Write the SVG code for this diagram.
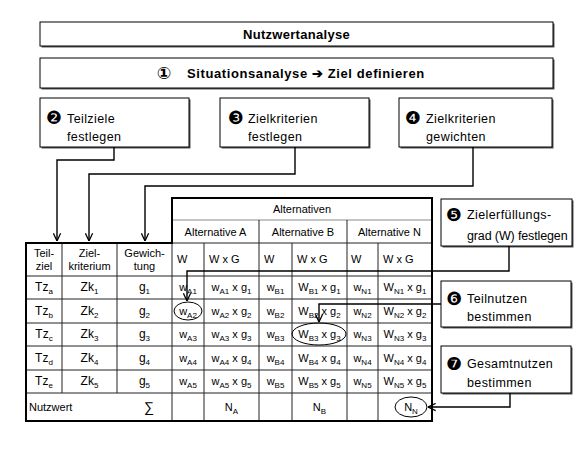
<svg xmlns="http://www.w3.org/2000/svg" width="585" height="449" viewBox="0 0 585 449">
<style>
.box{fill:#fff;stroke:#000;stroke-width:1}
.sh{fill:#555}
.bt{font-family:"Liberation Sans",Arial,sans-serif;font-size:12.5px;letter-spacing:0.4px;fill:#000}
.hb{font-family:"Liberation Sans",Arial,sans-serif;font-size:13px;font-weight:bold;fill:#000}
.num{font-family:"DejaVu Sans","Noto Sans CJK SC",sans-serif;font-size:18px;fill:#000;text-anchor:middle}
.t{font-family:"Liberation Sans",Arial,sans-serif;font-size:11px;fill:#000;text-anchor:middle}
.tl{font-family:"Liberation Sans",Arial,sans-serif;font-size:11px;fill:#000}
.big{font-size:12px}
.sb{font-size:8px}
.grid line{stroke:#222;stroke-width:1}
.conn path{fill:none;stroke:#000;stroke-width:1.4}
.ell{fill:none;stroke:#000;stroke-width:1}
</style>
<defs>
<marker id="arr" viewBox="0 0 10 10" refX="9.5" refY="5" markerWidth="9" markerHeight="9" markerUnits="userSpaceOnUse" orient="auto">
<path d="M1,1 L9.5,5 L1,9" fill="none" stroke="#000" stroke-width="1.4"/>
</marker>
</defs>
<rect width="585" height="449" fill="#fff"/>

<g id="title">
<rect class="sh" x="41.5" y="23.5" width="513" height="24"/>
<rect class="box" x="40" y="22" width="513" height="24"/>
<text class="hb" x="296.5" y="38.5" text-anchor="middle" letter-spacing="0.3">Nutzwertanalyse</text>
</g>

<g id="step1">
<rect class="sh" x="41.5" y="59.5" width="513" height="30"/>
<rect class="box" x="40" y="58" width="513" height="30"/>
<text class="num" x="164" y="79" style="font-size:17px;font-weight:bold">①</text>
<text class="hb" x="187" y="78" letter-spacing="0.6">Situationsanalyse ➔ Ziel definieren</text>
</g>

<g id="step2">
<rect class="sh" x="41.5" y="99.5" width="149" height="49"/>
<rect class="box" x="40" y="98" width="149" height="49"/>
<text class="num" x="54" y="124">❷</text>
<text class="bt" x="67" y="123">Teilziele</text>
<text class="bt" x="67" y="141">festlegen</text>
</g>

<g id="step3">
<rect class="sh" x="221.5" y="99.5" width="149" height="49"/>
<rect class="box" x="220" y="98" width="149" height="49"/>
<text class="num" x="236" y="124">❸</text>
<text class="bt" x="248" y="123">Zielkriterien</text>
<text class="bt" x="248" y="141">festlegen</text>
</g>

<g id="step4">
<rect class="sh" x="400.5" y="99.5" width="153" height="49"/>
<rect class="box" x="399" y="98" width="153" height="49"/>
<text class="num" x="413" y="124">❹</text>
<text class="bt" x="426" y="123">Zielkriterien</text>
<text class="bt" x="426" y="141">gewichten</text>
</g>

<g id="step5">
<rect class="sh" x="442.5" y="200.5" width="131" height="47"/>
<rect class="box" x="441" y="199" width="131" height="47"/>
<text class="num" x="454" y="221">❺</text>
<text class="bt" x="467" y="219">Zielerfüllungs-</text>
<text class="bt" x="467" y="240" textLength="101" lengthAdjust="spacing">grad (W) festlegen</text>
</g>

<g id="step6">
<rect class="sh" x="442.5" y="282.5" width="130" height="46"/>
<rect class="box" x="441" y="281" width="130" height="46"/>
<text class="num" x="454" y="305">❻</text>
<text class="bt" x="467" y="303">Teilnutzen</text>
<text class="bt" x="467" y="321">bestimmen</text>
</g>

<g id="step7">
<rect class="sh" x="442.5" y="347.5" width="130" height="47"/>
<rect class="box" x="441" y="346" width="130" height="47"/>
<text class="num" x="454" y="370">❼</text>
<text class="bt" x="467" y="368">Gesamtnutzen</text>
<text class="bt" x="467" y="387">bestimmen</text>
</g>

<g id="table">
<g class="grid">
<line x1="172" y1="220" x2="432" y2="220" style="stroke:#888"/>
<line x1="172" y1="243" x2="432" y2="243"/>
<line x1="26" y1="276" x2="432" y2="276"/>
<line x1="26" y1="299" x2="432" y2="299"/>
<line x1="26" y1="323" x2="432" y2="323"/>
<line x1="26" y1="346" x2="432" y2="346"/>
<line x1="26" y1="370" x2="432" y2="370"/>
<line x1="26" y1="393" x2="432" y2="393"/>
<line x1="62" y1="243" x2="62" y2="393"/>
<line x1="117" y1="243" x2="117" y2="393"/>
<line x1="172" y1="243" x2="172" y2="421"/>
<line x1="204" y1="243" x2="204" y2="421"/>
<line x1="259" y1="220" x2="259" y2="421"/>
<line x1="292" y1="243" x2="292" y2="421"/>
<line x1="347" y1="220" x2="347" y2="421"/>
<line x1="378" y1="243" x2="378" y2="421"/>
</g>
<path d="M26,243 H172 V198 H432 V421 H26 Z" fill="none" stroke="#000" stroke-width="2"/>

<text class="t" x="302" y="213">Alternativen</text>
<text class="t" x="215.5" y="235.5">Alternative A</text>
<text class="t" x="303" y="235.5">Alternative B</text>
<text class="t" x="389.5" y="235.5">Alternative N</text>

<text class="t" x="44" y="257">Teil-</text>
<text class="t" x="44" y="270">ziel</text>
<text class="t" x="89.5" y="257">Ziel-</text>
<text class="t" x="89.5" y="270">kriterium</text>
<text class="t" x="144.5" y="257">Gewich-</text>
<text class="t" x="144.5" y="270">tung</text>
<text class="tl" x="177" y="263">W</text>
<text class="tl" x="209" y="263">W x G</text>
<text class="tl" x="264" y="263">W</text>
<text class="tl" x="297" y="263">W x G</text>
<text class="tl" x="351" y="263">W</text>
<text class="tl" x="383" y="263">W x G</text>

<!-- row a -->
<text class="t big" x="44" y="291">Tz<tspan class="sb" dy="3">a</tspan></text>
<text class="t big" x="89.5" y="291">Zk<tspan class="sb" dy="3">1</tspan></text>
<text class="t big" x="144.5" y="291">g<tspan class="sb" dy="3">1</tspan></text>
<text class="t" x="188" y="291">w<tspan class="sb" dy="3">A1</tspan></text>
<text class="t" x="231.5" y="291">w<tspan class="sb" dy="3">A1</tspan><tspan dy="-3"> x g</tspan><tspan class="sb" dy="3">1</tspan></text>
<text class="t" x="275.5" y="291">w<tspan class="sb" dy="3">B1</tspan></text>
<text class="t" x="319.5" y="291">W<tspan class="sb" dy="3">B1</tspan><tspan dy="-3"> x g</tspan><tspan class="sb" dy="3">1</tspan></text>
<text class="t" x="362.5" y="291">w<tspan class="sb" dy="3">N1</tspan></text>
<text class="t" x="405" y="291">W<tspan class="sb" dy="3">N1</tspan><tspan dy="-3"> x g</tspan><tspan class="sb" dy="3">1</tspan></text>

<!-- row b -->
<text class="t big" x="44" y="315">Tz<tspan class="sb" dy="3">b</tspan></text>
<text class="t big" x="89.5" y="315">Zk<tspan class="sb" dy="3">2</tspan></text>
<text class="t big" x="144.5" y="315">g<tspan class="sb" dy="3">2</tspan></text>
<text class="t" x="188" y="315">w<tspan class="sb" dy="3">A2</tspan></text>
<text class="t" x="231.5" y="315">w<tspan class="sb" dy="3">A2</tspan><tspan dy="-3"> x g</tspan><tspan class="sb" dy="3">2</tspan></text>
<text class="t" x="275.5" y="315">w<tspan class="sb" dy="3">B2</tspan></text>
<text class="t" x="319.5" y="315">W<tspan class="sb" dy="3">B2</tspan><tspan dy="-3"> x g</tspan><tspan class="sb" dy="3">2</tspan></text>
<text class="t" x="362.5" y="315">w<tspan class="sb" dy="3">N2</tspan></text>
<text class="t" x="405" y="315">W<tspan class="sb" dy="3">N2</tspan><tspan dy="-3"> x g</tspan><tspan class="sb" dy="3">2</tspan></text>

<!-- row c -->
<text class="t big" x="44" y="338">Tz<tspan class="sb" dy="3">c</tspan></text>
<text class="t big" x="89.5" y="338">Zk<tspan class="sb" dy="3">3</tspan></text>
<text class="t big" x="144.5" y="338">g<tspan class="sb" dy="3">3</tspan></text>
<text class="t" x="188" y="338">w<tspan class="sb" dy="3">A3</tspan></text>
<text class="t" x="231.5" y="338">w<tspan class="sb" dy="3">A3</tspan><tspan dy="-3"> x g</tspan><tspan class="sb" dy="3">3</tspan></text>
<text class="t" x="275.5" y="338">w<tspan class="sb" dy="3">B3</tspan></text>
<text class="t" x="319.5" y="338">W<tspan class="sb" dy="3">B3</tspan><tspan dy="-3"> x g</tspan><tspan class="sb" dy="3">3</tspan></text>
<text class="t" x="362.5" y="338">w<tspan class="sb" dy="3">N3</tspan></text>
<text class="t" x="405" y="338">W<tspan class="sb" dy="3">N3</tspan><tspan dy="-3"> x g</tspan><tspan class="sb" dy="3">3</tspan></text>

<!-- row d -->
<text class="t big" x="44" y="362">Tz<tspan class="sb" dy="3">d</tspan></text>
<text class="t big" x="89.5" y="362">Zk<tspan class="sb" dy="3">4</tspan></text>
<text class="t big" x="144.5" y="362">g<tspan class="sb" dy="3">4</tspan></text>
<text class="t" x="188" y="362">w<tspan class="sb" dy="3">A4</tspan></text>
<text class="t" x="231.5" y="362">w<tspan class="sb" dy="3">A4</tspan><tspan dy="-3"> x g</tspan><tspan class="sb" dy="3">4</tspan></text>
<text class="t" x="275.5" y="362">w<tspan class="sb" dy="3">B4</tspan></text>
<text class="t" x="319.5" y="362">W<tspan class="sb" dy="3">B4</tspan><tspan dy="-3"> x g</tspan><tspan class="sb" dy="3">4</tspan></text>
<text class="t" x="362.5" y="362">w<tspan class="sb" dy="3">N4</tspan></text>
<text class="t" x="405" y="362">W<tspan class="sb" dy="3">N4</tspan><tspan dy="-3"> x g</tspan><tspan class="sb" dy="3">4</tspan></text>

<!-- row e -->
<text class="t big" x="44" y="385">Tz<tspan class="sb" dy="3">e</tspan></text>
<text class="t big" x="89.5" y="385">Zk<tspan class="sb" dy="3">5</tspan></text>
<text class="t big" x="144.5" y="385">g<tspan class="sb" dy="3">5</tspan></text>
<text class="t" x="188" y="385">w<tspan class="sb" dy="3">A5</tspan></text>
<text class="t" x="231.5" y="385">w<tspan class="sb" dy="3">A5</tspan><tspan dy="-3"> x g</tspan><tspan class="sb" dy="3">5</tspan></text>
<text class="t" x="275.5" y="385">w<tspan class="sb" dy="3">B5</tspan></text>
<text class="t" x="319.5" y="385">W<tspan class="sb" dy="3">B5</tspan><tspan dy="-3"> x g</tspan><tspan class="sb" dy="3">5</tspan></text>
<text class="t" x="362.5" y="385">w<tspan class="sb" dy="3">N5</tspan></text>
<text class="t" x="405" y="385">W<tspan class="sb" dy="3">N5</tspan><tspan dy="-3"> x g</tspan><tspan class="sb" dy="3">5</tspan></text>

<!-- Nutzwert row -->
<text class="tl" x="29" y="411">Nutzwert</text>
<text class="t" x="149" y="412" style="font-size:14px">∑</text>
<text class="t" x="231.5" y="411">N<tspan class="sb" dy="3">A</tspan></text>
<text class="t" x="319.5" y="411">N<tspan class="sb" dy="3">B</tspan></text>
<text class="t" x="411" y="411">N<tspan class="sb" dy="3">N</tspan></text>

<ellipse class="ell" cx="188" cy="311" rx="14" ry="9"/>
<ellipse class="ell" cx="319" cy="334" rx="27" ry="11"/>
<ellipse class="ell" cx="411" cy="407" rx="16" ry="10"/>
</g>

<g id="connectors" class="conn">
<path d="M114,147 V160 H57 V241" marker-end="url(#arr)"/>
<path d="M295,147 V174 H89 V241" marker-end="url(#arr)"/>
<path d="M473,147 V186 H145 V241" marker-end="url(#arr)"/>
<path d="M509,246 V271 H187 V301" marker-end="url(#arr)"/>
<path d="M441,304 H319 V322" marker-end="url(#arr)"/>
<path d="M510,393 V407 H428" marker-end="url(#arr)"/>
</g>
</svg>
